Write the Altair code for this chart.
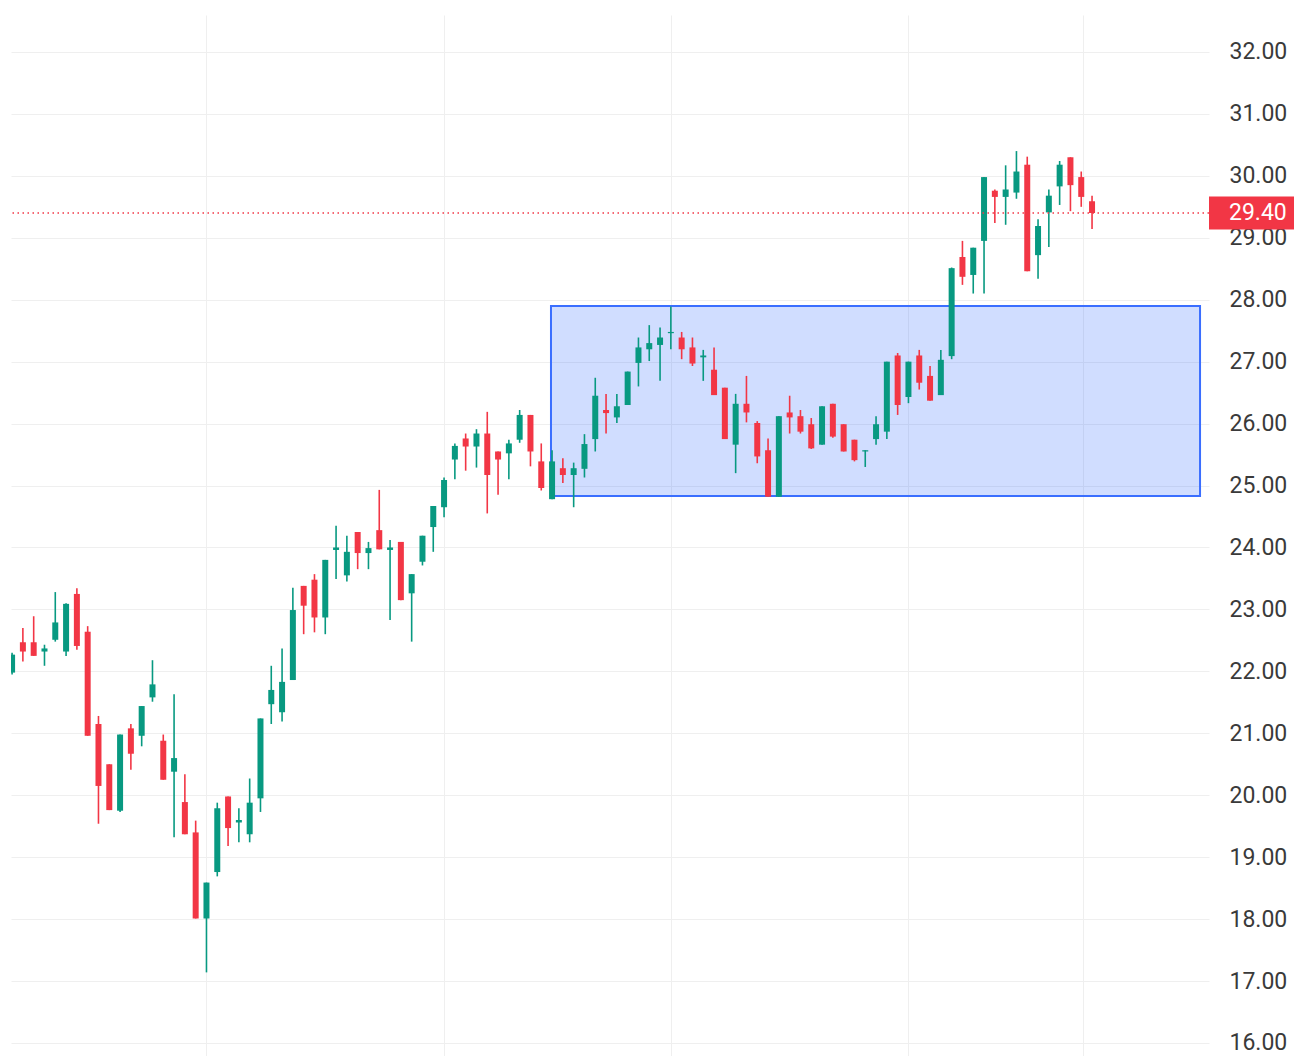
import altair as alt
import pandas as pd

# OHLC candles (index 0 .. 100)
opens = [21.98, 22.47, 22.47, 22.32, 22.51, 22.32, 23.25, 22.64, 21.15, 20.50,
         19.75, 21.08, 20.96, 21.58, 20.88, 20.38, 19.89, 19.40, 18.01, 18.76,
         19.98, 19.56, 19.37, 19.95, 21.47, 21.34, 21.86, 23.38, 23.48, 22.87,
         23.96, 23.55, 24.25, 23.91, 24.28, 23.96, 24.09, 23.26, 23.77, 24.33,
         24.65, 25.42, 25.76, 25.63, 25.84, 25.55, 25.52, 25.74, 26.14, 25.39,
         24.78, 25.28, 25.17, 25.27, 25.75, 26.22, 26.10, 26.30, 26.98, 27.20,
         27.27, 27.46, 27.39, 27.23, 27.07, 26.87, 26.58, 25.66, 26.32, 26.01,
         25.57, 24.82, 26.18, 26.12, 25.99, 25.66, 26.32, 25.99, 25.74, 25.55,
         25.75, 25.87, 27.10, 26.43, 27.10, 26.77, 26.46, 27.09, 28.69, 28.40,
         28.95, 29.76, 29.66, 29.73, 30.18, 28.72, 29.41, 29.83, 30.30, 29.98,
         29.59]
highs = [22.30, 22.70, 22.89, 22.43, 23.28, 23.10, 23.34, 22.73, 21.28, 20.50,
         20.98, 21.15, 21.44, 22.18, 20.98, 21.63, 20.34, 19.59, 18.59, 19.88,
         19.98, 19.79, 20.27, 21.24, 22.09, 22.37, 23.35, 23.38, 23.57, 23.80,
         24.35, 24.19, 24.25, 24.09, 24.93, 24.12, 24.09, 23.57, 24.19, 24.67,
         25.13, 25.68, 25.84, 25.91, 26.19, 25.55, 25.74, 26.22, 26.14, 25.68,
         25.57, 25.44, 25.37, 25.83, 26.74, 26.48, 26.48, 26.84, 27.39, 27.59,
         27.55, 27.89, 27.48, 27.39, 27.19, 27.23, 26.58, 26.48, 26.77, 26.04,
         25.76, 26.12, 26.45, 26.22, 26.09, 26.28, 26.32, 25.99, 25.74, 25.57,
         26.12, 27.00, 27.14, 27.00, 27.19, 26.93, 27.19, 28.52, 28.95, 28.84,
         29.98, 29.78, 30.17, 30.40, 30.31, 29.30, 29.78, 30.24, 30.30, 30.07,
         29.68]
lows = [21.95, 22.16, 22.25, 22.09, 22.48, 22.25, 22.35, 20.96, 19.54, 19.76,
        19.73, 20.41, 20.79, 21.51, 20.25, 19.32, 19.37, 18.01, 17.14, 18.69,
        19.18, 19.24, 19.24, 19.73, 21.15, 21.19, 21.86, 22.60, 22.63, 22.60,
        23.49, 23.45, 23.65, 23.65, 23.97, 22.83, 23.15, 22.48, 23.71, 23.93,
        24.49, 25.10, 25.24, 25.29, 24.55, 24.85, 25.10, 25.69, 25.31, 24.92,
        24.78, 25.04, 24.65, 25.13, 25.55, 25.84, 26.01, 26.30, 26.60, 27.01,
        26.69, 27.20, 27.04, 26.93, 26.69, 26.46, 25.75, 25.20, 26.02, 25.36,
        24.82, 24.82, 25.84, 25.84, 25.59, 25.66, 25.77, 25.55, 25.39, 25.30,
        25.66, 25.75, 26.14, 26.33, 26.55, 26.37, 26.46, 27.04, 28.24, 28.10,
        28.10, 29.24, 29.21, 29.63, 28.46, 28.34, 28.85, 29.53, 29.43, 29.50,
        29.14]
closes = [22.27, 22.32, 22.25, 22.37, 22.79, 23.09, 22.41, 20.96, 20.15, 19.76,
          20.98, 20.67, 21.44, 21.79, 20.25, 20.60, 19.37, 18.01, 18.59, 19.79,
          19.47, 19.60, 19.88, 21.24, 21.70, 21.83, 22.99, 23.06, 22.87, 23.80,
          24.00, 23.93, 23.91, 23.99, 23.97, 24.00, 23.15, 23.57, 24.19, 24.67,
          25.09, 25.64, 25.63, 25.84, 25.17, 25.42, 25.68, 26.14, 25.55, 24.96,
          25.39, 25.17, 25.28, 25.67, 26.45, 26.17, 26.28, 26.84, 27.23, 27.30,
          27.39, 27.48, 27.20, 26.97, 27.10, 26.46, 25.75, 26.32, 26.18, 25.47,
          24.82, 26.12, 26.10, 25.87, 25.60, 26.28, 25.79, 25.55, 25.41, 25.57,
          25.99, 27.00, 26.30, 27.00, 26.66, 26.37, 27.03, 28.51, 28.37, 28.84,
          29.98, 29.66, 29.78, 30.07, 28.46, 29.19, 29.68, 30.18, 29.85, 29.66,
          29.40]

# Vertical grid positions (candle indices)
vgrid_idx = [18, 40, 61, 83, 99.2]
# Y axis tick labels
y_ticks = list(range(16, 33))
# Highlighted range box
box_x = [49.9]
box_x2 = [110.0]
box_low = [24.83]
box_high = [27.90]
# Last price
last_price = [29.40]

GREEN = "#089981"
RED = "#f23645"

df = pd.DataFrame({
    "i": list(range(len(opens))),
    "open": opens, "high": highs, "low": lows, "close": closes,
})
df["dir"] = ["up" if c >= o else "down" for o, c in zip(opens, closes)]

box_df = pd.DataFrame({"x": box_x, "x2": box_x2, "y": box_low, "y2": box_high})
price_df = pd.DataFrame({"p": last_price, "label": [f"{v:.2f}" for v in last_price]})

xscale = alt.Scale(domain=[-0.1, 110.83], nice=False, zero=False, padding=0)
yscale = alt.Scale(domain=[15.79, 32.597], nice=False, zero=False, padding=0)

x_axis = alt.Axis(values=vgrid_idx, labels=False, ticks=False, domain=False,
                  title=None, grid=True, gridColor="#efefef", gridWidth=1)
y_axis = alt.Axis(orient="right", values=y_ticks, format=".2f", title=None,
                  ticks=False, domain=False, grid=True, gridColor="#efefef",
                  gridWidth=1, labelFont="Roboto", labelFontSize=23,
                  labelColor="#3a3a3a", labelPadding=20, labelAlign="left",
                  labelBaseline="middle", labelOverlap=False)

color = alt.Color("dir:N", scale=alt.Scale(domain=["up", "down"], range=[GREEN, RED]),
                  legend=None)

box = alt.Chart(box_df).mark_rect(
    fill="#2962ff", fillOpacity=0.22, stroke="#3a6eff", strokeWidth=2
).encode(
    x=alt.X("x:Q", scale=xscale, axis=x_axis),
    x2="x2:Q",
    y=alt.Y("y:Q", scale=yscale, axis=y_axis),
    y2="y2:Q",
)

wicks = alt.Chart(df).mark_rule(strokeWidth=1.6, clip=True).encode(
    x=alt.X("i:Q", scale=xscale),
    y=alt.Y("low:Q", scale=yscale),
    y2="high:Q",
    color=color,
)

bodies = alt.Chart(df).mark_bar(size=6, clip=True).encode(
    x=alt.X("i:Q", scale=xscale),
    y=alt.Y("open:Q", scale=yscale),
    y2="close:Q",
    color=color,
)

price_line = alt.Chart(price_df).mark_rule(
    color=RED, strokeWidth=1.5, strokeDash=[1.5, 3.5]
).encode(y=alt.Y("p:Q", scale=yscale))

badge = alt.Chart(price_df).mark_rule(color=RED, strokeWidth=33, strokeCap="butt").encode(
    x=alt.value(1198), x2=alt.value(1283), y=alt.Y("p:Q", scale=yscale)
)

badge_text = alt.Chart(price_df).mark_text(
    font="Roboto", fontSize=23, color="white", align="left", baseline="middle"
).encode(
    x=alt.value(1218), y=alt.Y("p:Q", scale=yscale), text="label:N"
)

chart = alt.layer(box, wicks, bodies, price_line, badge, badge_text).properties(
    width=1198, height=1041,
    autosize=alt.AutoSizeParams(type="none"),
    padding={"left": 11, "top": 15, "right": 85, "bottom": 0},
    background="white",
).configure_view(strokeWidth=0)

chart.save("out.html", embed_options={"renderer": "svg", "actions": False})
